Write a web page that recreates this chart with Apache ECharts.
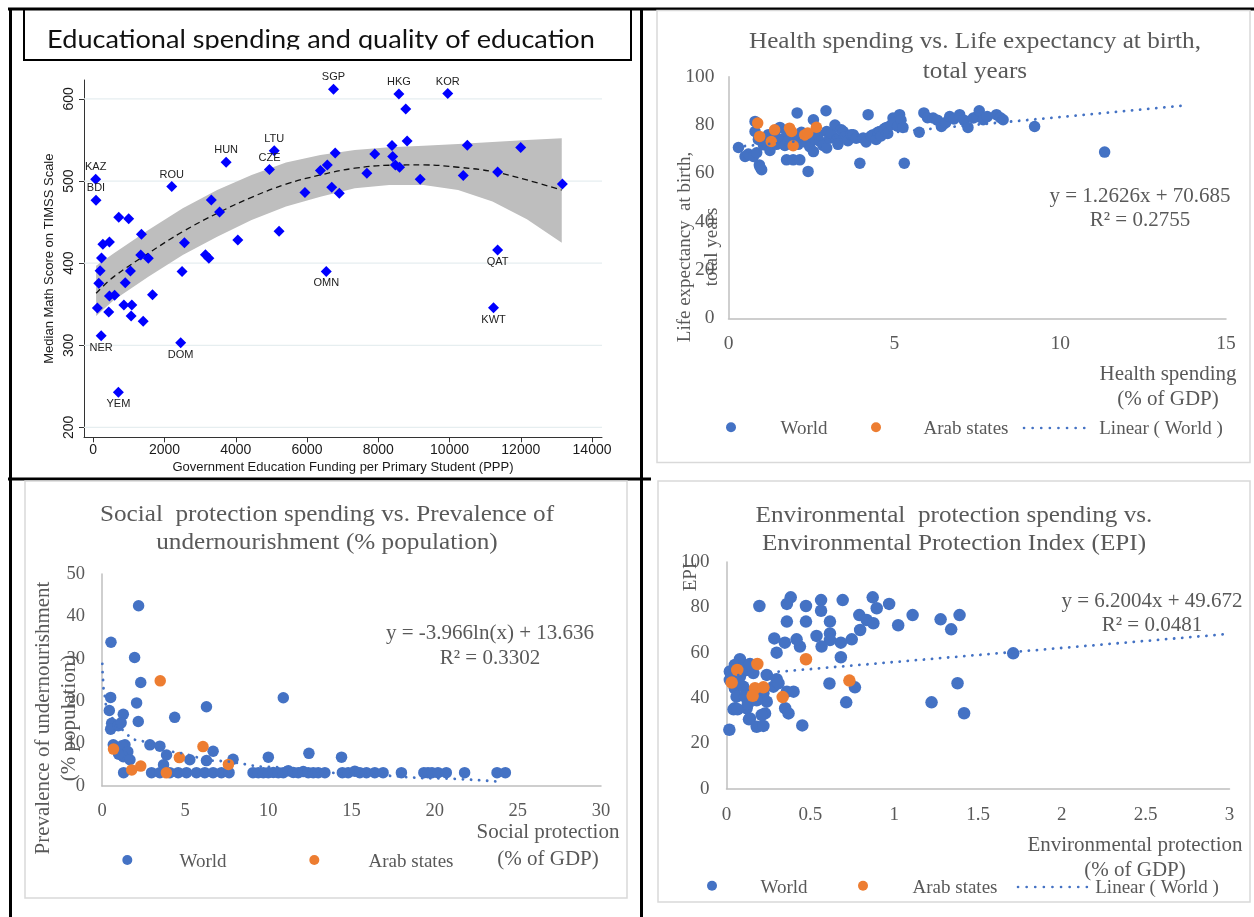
<!DOCTYPE html>
<html><head><meta charset="utf-8">
<script src="https://cdn.jsdelivr.net/npm/echarts@6/dist/echarts.min.js"></script>
<style>html,body{margin:0;padding:0;background:#fff;}#c{width:1254px;height:917px;}</style>
</head><body><div id="c"></div>
<script>
// ---------- Panel 1: Educational spending (Stata) ----------
const eduX = [6743,8578,9950,8771,8810,5081,6791,3729,10500,11998,8385,7902,8404,8481,8597,6376,6569,4946,68,2203,7680,9177,10385,11351,13167,5941,6694,6907,77,3313,3545,5216,4057,2560,715,995,1352,270,454,232,1333,1546,3149,3246,11351,193,1043,2492,6540,155,898,454,599,1662,116,11235,435,860,1082,1063,1401,222,2454,705];
const eduY = [611.8,606,606.5,587.8,548.8,537,534,522.9,543.6,540.7,543.2,533,529.8,519.6,516.8,512.7,519.6,513.9,502.2,493.2,509.5,502.2,506.6,511.1,496.5,485.9,492.4,485.1,476.6,477,462.4,438.8,428.3,425,455.9,454.2,435.2,423,425.8,406.3,410,406,410.4,406,416,390.9,390.5,390,390,375.5,376.3,360,360.9,361.7,345.4,345.8,340.6,349,349,335.7,329.2,311.7,303.2,242.7];
const eduCode = ['SGP','HKG','KOR','','','LTU','','HUN','','','','','','','','','','CZE','KAZ','ROU','','','','','','','','','BDI','','','','','','','','','','','','','','','','QAT','','','','OMN','','','','','','','KWT','','','','','','NER','DOM','YEM'];
const eduCodesBelow = ['QAT','OMN','KWT','NER','DOM','YEM'];
const eduFitX = [80,580,1546,2512,3478,4444,5410,6376,7342,8308,9274,10240,11206,12172,13150];
const eduFitY = [363.3,383.6,412,438.4,460.7,480.2,496.1,507.4,515.6,519.2,519.6,516.8,511.5,501.3,489];
const eduBandUpper = [397,412,440.4,466.8,489.2,507.4,522.5,531.8,537.9,541.1,542.8,545.2,547.6,550,552.1];
const eduBandLower = [335.7,355.2,383.6,410,432.3,452.6,468.9,481,491.2,495.3,495.3,489.2,475,453.4,425];
const eduXTicks = [0,2000,4000,6000,8000,10000,12000,14000];
const eduYTicks = [200,300,400,500,600];

// ---------- Panel 2: Health ----------
const healthWorld = [[0.3,70.7],[0.5,67],[0.6,68],[0.75,67],[0.85,68.5],[0.93,63.5],[1.0,61.5],[0.95,62.5],[0.8,81.5],[0.8,77.3],[0.9,74],[1.05,71.8],[1.1,73],[1.2,76],[1.25,69.5],[1.4,76],[1.45,72],[1.55,79],[1.6,74],[1.7,71.5],[1.75,77.3],[1.8,73.5],[1.75,65.6],[1.95,65.6],[2.15,65.6],[2.07,85],[2.0,75],[2.1,72],[2.2,77],[2.3,73],[2.4,60.8],[2.45,71],[2.56,82.2],[2.56,69],[2.6,74],[2.7,76],[2.76,73.2],[2.85,71.5],[2.94,85.9],[2.96,77.3],[2.96,70.5],[3.05,74.5],[3.1,76.5],[3.21,80],[3.26,74],[3.3,72],[3.4,78],[3.46,77.3],[3.5,75],[3.6,73.5],[3.7,76],[3.76,76],[3.85,74.5],[3.96,64.2],[4.06,74.6],[4.15,73],[4.21,84.3],[4.3,75.5],[4.36,76],[4.45,74],[4.5,77],[4.56,77.3],[4.6,75.5],[4.7,78.5],[4.76,79],[4.8,76.5],[4.9,80],[4.96,82.9],[5.0,81],[5.1,79.5],[5.16,84.3],[5.2,82],[5.26,79],[5.3,64.2],[5.75,77],[5.89,85],[6.0,83],[6.17,82.9],[6.3,82],[6.42,79.4],[6.55,81],[6.67,83.5],[6.8,82.5],[6.97,84.3],[7.1,82],[7.22,79],[7.38,82.9],[7.5,83.5],[7.56,85.9],[7.68,82.2],[7.8,83.5],[8.08,84.3],[8.2,83],[8.28,82.2],[9.23,79.4],[11.34,68.8]];
const healthArab = [[0.88,80.8],[0.94,75.3],[1.29,73.2],[1.39,78],[1.84,78.7],[1.9,77.3],[1.95,71.4],[2.3,75.9],[2.39,76.7],[2.65,79.1]];
const healthTrend = [[0.25,71.0],[13.7,88.0]];

// ---------- Panel 3: Social protection ----------
const socialWorld = [[2.2,42.5],[0.54,33.9],[1.96,30.3],[2.33,24.4],[10.9,20.8],[0.52,20.9],[2.08,19.6],[0.44,17.8],[1.28,16.9],[6.28,18.7],[4.37,16.2],[2.18,15.2],[0.58,14.8],[0.52,13.4],[0.98,14.2],[1.15,14.9],[0.68,9.7],[1.38,9.7],[1.2,9.5],[1.55,8.1],[1.28,6.9],[1.68,6.2],[1.0,7.5],[2.88,9.7],[3.48,9.4],[3.88,7.3],[3.7,5.0],[5.28,6.2],[6.28,6.0],[6.68,8.2],[7.88,6.3],[10.0,6.8],[12.44,7.7],[14.4,6.8],[1.3,3.15],[2.98,3.15],[3.48,3.15],[4.08,3.15],[4.58,3.15],[5.08,3.15],[5.68,3.15],[6.18,3.15],[6.68,3.15],[7.18,3.15],[7.64,3.15],[9.08,3.15],[9.4,3.15],[9.7,3.15],[10.0,3.15],[10.3,3.2],[10.6,3.15],[10.9,3.15],[11.2,3.6],[11.5,3.2],[11.8,3.15],[12.1,3.4],[12.4,3.15],[12.7,3.15],[13.0,3.15],[13.4,3.15],[14.45,3.15],[14.8,3.15],[15.2,3.5],[15.5,3.15],[15.9,3.15],[16.4,3.15],[16.9,3.15],[18.0,3.15],[19.35,3.15],[19.6,3.15],[19.84,3.15],[20.2,3.15],[20.7,3.15],[21.8,3.15],[23.75,3.15],[24.25,3.15]];
const socialArab = [[0.69,8.7],[3.5,24.8],[6.07,9.3],[4.65,6.7],[2.33,4.7],[1.79,3.8],[3.87,3.1],[7.6,5.1]];
const socialTrend = [[0.02,28.8],[0.05,25.5],[0.1,22.8],[0.25,19.1],[0.5,16.4],[1,13.6],[2,10.9],[4,8.1],[7,5.9],[10,4.5],[15,2.9],[20,1.8],[24,1.0]];

// ---------- Panel 4: Environmental protection ----------
const envWorld = [[0.196,80.6],[0.383,84.4],[0.36,81.5],[0.474,80.6],[0.564,83.2],[0.564,78.5],[0.693,83.2],[0.872,84.4],[0.896,79.6],[0.97,81.5],[1.11,76.6],[1.277,74.7],[1.34,70.3],[1.39,76.6],[0.36,73.7],[0.474,73.7],[0.617,73.7],[0.792,76.6],[0.836,74.4],[0.876,73],[0.797,70],[0.747,65.9],[0.682,64.4],[0.617,68.5],[0.617,65.6],[0.537,67.4],[0.567,62.7],[0.438,62.7],[0.418,65.9],[0.348,64.4],[0.285,66.3],[0.299,60],[0.682,58],[1.024,72.1],[0.614,46.4],[0.766,44.7],[0.714,38.1],[1.223,38.1],[1.378,46.5],[1.417,33.3],[0.452,27.9],[0.017,26],[1.71,59.7],[0.08,57.1],[0.05,54.6],[0.02,51.7],[0.02,48],[0.08,49.5],[0.12,52.4],[0.16,51],[0.24,50.2],[0.299,48.3],[0.05,44.3],[0.1,45],[0.06,40.6],[0.11,40.6],[0.05,35.5],[0.12,35.5],[0.22,42.1],[0.24,38.4],[0.36,42.8],[0.4,42.8],[0.35,35.5],[0.37,33.2],[0.23,33.2],[0.21,32.5],[0.14,31],[0.18,27.3],[0.22,27.7],[0.28,45],[0.31,46.5],[0.134,30.6],[0.042,35],[0.066,35],[0.128,37.4],[0.09,53],[0.14,55],[0.03,50],[0.07,47],[0.15,42],[0.18,39]];
const envArab = [[0.064,52.4],[0.184,55],[0.474,57.1],[0.031,46.8],[0.733,47.7],[0.17,44.3],[0.22,44.7],[0.156,41],[0.335,40.4]];
const envTrend = [[0.07,50.1],[3.0,68.3]];

// ---------- styling ----------
const SANS = "'Liberation Sans', Arial, sans-serif";
const SERIF = "'Liberation Serif', 'Times New Roman', serif";
const GREY = '#595959';
const BLUE = '#4472C4', ORANGE = '#ED7D31';
const AXISGREY = '#bfbfbf';

function excelAxis(gi, min, max, interval, margin, fs) {
  return {type:'value', gridIndex:gi, min:min, max:max, interval:interval,
    axisLine:{show:true, onZero:false, lineStyle:{color:AXISGREY, width:1.5}},
    axisTick:{show:false}, splitLine:{show:false},
    axisLabel:{color:GREY, fontFamily:SERIF, fontSize:fs, margin:margin}};
}
function dots(gi, name, data, color, size) {
  return {type:'scatter', name:name, xAxisIndex:gi, yAxisIndex:gi, data:data, symbol:'circle',
    symbolSize:size, itemStyle:{color:color, opacity:1}, z:3, silent:true};
}
function trend(gi, data, smooth) {
  return {type:'line', xAxisIndex:gi, yAxisIndex:gi, data:data, symbol:'none', smooth:smooth,
    smoothMonotone:'x', silent:true, z:5,
    lineStyle:{color:BLUE, width:2.8, type:[0.1, 8], cap:'round'}};
}
function T(x, y, text, size, extra) {
  const el = {type:'text', x:x, y:y, silent:true,
    style:{text:text, fill:GREY, font: size + 'px ' + SERIF, align:'center', verticalAlign:'middle'}};
  if (extra) { Object.keys(extra).forEach(k => { if (k === 'style') Object.assign(el.style, extra.style); else el[k] = extra[k]; }); }
  return el;
}
function dot(x, y, color) { return {type:'circle', shape:{cx:x, cy:y, r:5}, style:{fill:color}, silent:true}; }
function dline(x1, x2, y) { return {type:'line', shape:{x1:x1, y1:y, x2:x2, y2:y}, silent:true,
  style:{stroke:BLUE, lineWidth:2.6, lineDash:[0.1, 8.5], lineCap:'round'}}; }
function bl(x1,y1,x2,y2,w,c){ return {type:'line', shape:{x1:x1,y1:y1,x2:x2,y2:y2}, style:{stroke:c||'#000', lineWidth:w}, silent:true}; }
function box(x,y,w,h,c,lw){ return {type:'rect', shape:{x:x,y:y,width:w,height:h}, style:{fill:null, stroke:c, lineWidth:lw}, silent:true}; }

const graphics = [
  // outer black frame
  bl(8,9,1254,9,3), bl(10.5,8,10.5,917,3), bl(641.5,8,641.5,917,3), bl(8,479,651,479,3),
  // title box (panel 1)
  box(24,9,607,51,'#000',2),
  {type:'text', x:321, y:40, silent:true, z2:1, scaleX:1.085,
    style:{text:'Educational spending and quality of education', fill:'#111', font:"25px Lato, 'Open Sans', sans-serif", align:'center', verticalAlign:'middle'}},
  {type:'rect', shape:{x:25.5, y:49.6, width:604, height:9}, style:{fill:'#fff'}, z2:5, silent:true},
  // excel panel borders
  box(657,10.5,593,452,'#d9d9d9',1.5),
  box(25,481,602,417,'#d9d9d9',1.5),
  box(658,481,592,421,'#d9d9d9',1.5),
  // titles
  T(975,42,'Health spending vs. Life expectancy at birth,',22.5,{scaleX:1.12}),
  T(975,72,'total years',22.5,{scaleX:1.12}),
  T(327,515,'Social  protection spending vs. Prevalence of',22.5,{scaleX:1.12}),
  T(327,543,'undernourishment (% population)',22.5,{scaleX:1.12}),
  T(954,516,'Environmental  protection spending vs.',22.5,{scaleX:1.12}),
  T(954,544,'Environmental Protection Index (EPI)',22.5,{scaleX:1.12}),
  // regression equations
  T(1140,208.5,'y = 1.2626x + 70.685\nR\u00b2 = 0.2755',21,{style:{lineHeight:23.5}}),
  T(490,646,'y = -3.966ln(x) + 13.636\nR\u00b2 = 0.3302',21,{style:{lineHeight:25.5}}),
  T(1152,613.5,'y = 6.2004x + 49.672\nR\u00b2 = 0.0481',21,{style:{lineHeight:23.5}}),
  // x axis titles
  T(1168,387,'Health spending\n(% of GDP)',21,{style:{lineHeight:25.7}}),
  T(548,845.7,'Social protection\n(% of GDP)',21,{style:{lineHeight:26.7}}),
  T(1135,858,'Environmental protection\n(% of GDP)',21,{style:{lineHeight:25.7}}),
  // y axis titles
  T(699,247,'Life expectancy  at birth,\ntotal years',19,{rotation:Math.PI/2, style:{lineHeight:27}}),
  T(56,718,'Prevalence of undernourishment\n(% population)',21,{rotation:Math.PI/2, style:{lineHeight:26}}),
  T(691,577,'EPI',19,{rotation:Math.PI/2}),
  // legends
  dot(731,427.3,BLUE), T(804,429.5,'World',19), dot(876,427.3,ORANGE), T(966,429.5,'Arab states',19),
  dline(1024,1092,428), T(1161,429.5,'Linear ( World )',19),
  dot(127.3,860,BLUE), T(203,862,'World',19), dot(314.3,860,ORANGE), T(411,862,'Arab states',19),
  dot(712,885.7,BLUE), T(784,888,'World',19), dot(863,885.7,ORANGE), T(955,888,'Arab states',19),
  dline(1018,1088,887), T(1157,888,'Linear ( World )',19)
];

const option = {
  animation:false,
  backgroundColor:'#ffffff',
  grid:[
    {left:84, top:80, width:518, height:357.3, outerBoundsMode:'none'},
    {left:728.5, top:76.7, width:497.5, height:241.6, outerBoundsMode:'none'},
    {left:102, top:574, width:499, height:212, outerBoundsMode:'none'},
    {left:726.5, top:562, width:503, height:226.7, outerBoundsMode:'none'}
  ],
  xAxis:[
    {type:'value', gridIndex:0, min:-260, max:14280,
      axisLine:{show:true, onZero:false, lineStyle:{color:'#333', width:1}},
      axisTick:{show:true, customValues:eduXTicks, length:5, lineStyle:{color:'#333'}},
      axisLabel:{customValues:eduXTicks, formatter: v => String(v), color:'#1a1a1a', fontSize:14, fontFamily:SANS, margin:6},
      splitLine:{show:false},
      name:'Government Education Funding per Primary Student (PPP)', nameLocation:'middle', nameGap:24,
      nameTextStyle:{fontSize:13, color:'#1a1a1a', fontFamily:SANS}},
    excelAxis(1,0,15,5,16,19.5),
    excelAxis(2,0,30,5,16,18.5),
    excelAxis(3,0,3,0.5,17,19)
  ],
  yAxis:[
    {type:'value', gridIndex:0, min:188, max:623,
      axisLine:{show:true, onZero:false, lineStyle:{color:'#333', width:1}},
      axisTick:{show:true, customValues:eduYTicks, length:5, lineStyle:{color:'#333'}},
      axisLabel:{customValues:eduYTicks, formatter: v => String(v), rotate:90, color:'#1a1a1a', fontSize:14, fontFamily:SANS, margin:8},
      splitLine:{show:false},
      name:'Median Math Score on TIMSS Scale', nameLocation:'middle', nameGap:28,
      nameTextStyle:{fontSize:13, color:'#1a1a1a', fontFamily:SANS}},
    excelAxis(1,0,100,20,14,19.5),
    excelAxis(2,0,50,10,17,18.5),
    excelAxis(3,0,100,20,17,19)
  ],
  series:[
    {type:'custom', xAxisIndex:0, yAxisIndex:0, z:1, silent:true,
      data: eduYTicks.map(v => [v]), encode:{y:0},
      renderItem: function(params, api){
        const y = api.coord([eduXTicks[0], api.value(0)])[1];
        const cs = params.coordSys;
        return {type:'line', shape:{x1:cs.x, y1:y, x2:cs.x + cs.width, y2:y}, style:{stroke:'#e6eef0', lineWidth:1.2}};
      }},
    {type:'custom', xAxisIndex:0, yAxisIndex:0, z:2, silent:true,
      data: eduFitX.map((x,i) => [x, eduBandLower[i], eduBandUpper[i]]), encode:{x:0, y:[1,2]},
      renderItem: function(params, api){
        if (params.dataIndex !== 0) return null;
        const up = eduFitX.map((x,i) => api.coord([x, eduBandUpper[i]]));
        const lo = eduFitX.map((x,i) => api.coord([x, eduBandLower[i]])).reverse();
        return {type:'polygon', shape:{points: up.concat(lo)}, style:{fill:'#bebebe'}};
      }},
    {type:'line', xAxisIndex:0, yAxisIndex:0, z:3, silent:true, symbol:'none', smooth:0.4,
      data: eduFitX.map((x,i) => [x, eduFitY[i]]),
      lineStyle:{color:'#111', width:1.3, type:[6,4]}},
    {type:'scatter', xAxisIndex:0, yAxisIndex:0, z:4, silent:true, symbol:'diamond', symbolSize:11,
      itemStyle:{color:'#0000ff', opacity:1},
      data: eduX.map((x,i) => ({value:[x, eduY[i]],
        label:{show: eduCode[i] !== '', position: eduCodesBelow.indexOf(eduCode[i]) >= 0 ? 'bottom' : 'top'}})),
      label:{formatter: p => eduCode[p.dataIndex], fontSize:11, color:'#222', fontFamily:SANS, distance:1}},
    dots(1,'World',healthWorld,BLUE,11.5),
    dots(1,'Arab states',healthArab,ORANGE,11.5),
    trend(1,healthTrend,false),
    dots(2,'World',socialWorld,BLUE,11.5),
    dots(2,'Arab states',socialArab,ORANGE,11.5),
    trend(2,socialTrend,0.35),
    dots(3,'World',envWorld,BLUE,12.5),
    dots(3,'Arab states',envArab,ORANGE,12.5),
    trend(3,envTrend,false)
  ],
  graphic: graphics
};
const chart = echarts.init(document.getElementById('c'), null, {renderer:'canvas'});
chart.setOption(option);
</script>
</body></html>
